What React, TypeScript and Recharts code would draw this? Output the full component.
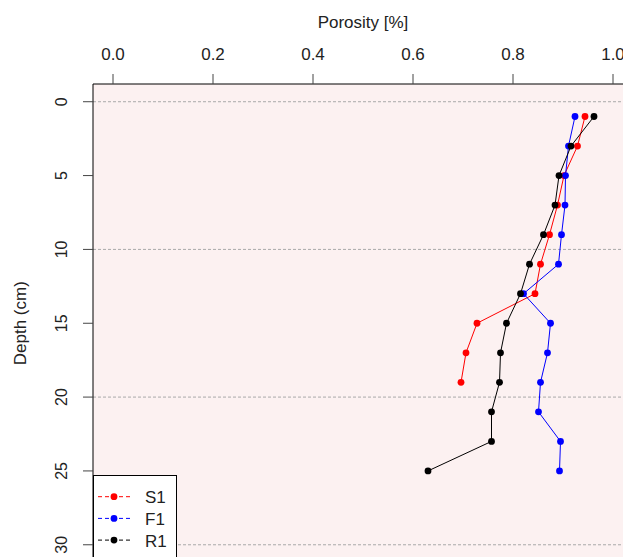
import { ScatterChart, Scatter, XAxis, YAxis, CartesianGrid } from "recharts";

const FONT = "'Liberation Sans', Arial, sans-serif";

// sampling depths (cm)
const depths = [1, 3, 5, 7, 9, 11, 13, 15, 17, 19, 21, 23, 25];

// porosity per profile, read top to bottom
const s1Porosity = [0.944, 0.929, 0.902, 0.889, 0.873, 0.855, 0.844, 0.728, 0.706, 0.696];
const f1Porosity = [0.924, 0.911, 0.905, 0.904, 0.897, 0.891, 0.821, 0.875, 0.869, 0.855, 0.851, 0.895, 0.893];
const r1Porosity = [0.962, 0.916, 0.892, 0.884, 0.861, 0.833, 0.815, 0.787, 0.775, 0.773, 0.757, 0.757, 0.63];

const porosityTicks = [0, 0.2, 0.4, 0.6, 0.8, 1.0];
const depthTicks = [0, 5, 10, 15, 20, 25, 30];
const gridDepths = [0, 10, 20, 30];

const toPoints = (vals: number[]) => vals.map((p, i) => ({ porosity: p, depth: depths[i] }));

const series = [
  { name: "S1", color: "#ff0000", data: toPoints(s1Porosity) },
  { name: "F1", color: "#0000ff", data: toPoints(f1Porosity) },
  { name: "R1", color: "#000000", data: toPoints(r1Porosity) },
];

const XTick = ({ x, y, payload }: any) => (
  <text x={x} y={y} textAnchor="middle" fontSize={17} fill="#222" fontFamily={FONT}>
    {Number(payload.value).toFixed(1)}
  </text>
);

const YTick = ({ x, y, payload }: any) => (
  <text
    x={x}
    y={y}
    transform={`rotate(-90, ${x}, ${y})`}
    textAnchor="middle"
    fontSize={16}
    fill="#222"
    fontFamily={FONT}
  >
    {payload.value}
  </text>
);

const Legend = () => (
  <svg width={84} height={90} style={{ position: "absolute", left: 93, top: 475 }}>
    <rect x={0.5} y={0.5} width={83} height={89} fill="#fff" stroke="#000" />
    {series.map((s, i) => {
      const cy = 21.7 + i * 21.7;
      return (
        <g key={s.name}>
          <line x1={5} x2={38} y1={cy} y2={cy} stroke={s.color} strokeDasharray="4 3" />
          <circle cx={21} cy={cy} r={3.4} fill={s.color} />
          <text x={52} y={cy + 6.5} fontSize={17} fill="#222" fontFamily={FONT}>
            {s.name}
          </text>
        </g>
      );
    })}
  </svg>
);

export default function App() {
  return (
    <div
      style={{
        position: "fixed",
        left: 0,
        top: 0,
        width: 623,
        height: 557,
        overflow: "hidden",
        background: "#fff",
      }}
    >
      <ScatterChart width={700} height={620} margin={{ top: 0, right: 67, bottom: 57.5, left: 0 }}>
        <CartesianGrid
          vertical={false}
          horizontalValues={gridDepths}
          stroke="#aaa"
          strokeDasharray="3 2"
          fill="#fcf1f1"
        />
        <XAxis
          type="number"
          dataKey="porosity"
          orientation="top"
          domain={[-0.04, 1.04]}
          allowDataOverflow
          ticks={porosityTicks}
          height={84}
          tickSize={10}
          tickMargin={14.5}
          tick={<XTick />}
          tickLine={{ stroke: "#444" }}
          axisLine={{ stroke: "#000" }}
          label={{
            value: "Porosity [%]",
            position: "insideTop",
            offset: 16,
            fontSize: 17,
            fill: "#222",
            fontFamily: FONT,
          }}
        />
        <YAxis
          type="number"
          dataKey="depth"
          reversed
          domain={[-1.2, 31.2]}
          allowDataOverflow
          ticks={depthTicks}
          width={93}
          tickSize={10}
          tickMargin={16}
          tick={<YTick />}
          tickLine={{ stroke: "#444" }}
          axisLine={{ stroke: "#000" }}
          label={{
            content: ({ viewBox }: any) => {
              const cy = viewBox.y + viewBox.height / 2;
              return (
                <text
                  x={25.5}
                  y={cy}
                  transform={`rotate(-90, 25.5, ${cy})`}
                  textAnchor="middle"
                  fontSize={17}
                  fill="#222"
                  fontFamily={FONT}
                >
                  Depth (cm)
                </text>
              );
            },
          }}
        />
        {series.map((s) => (
          <Scatter
            key={s.name}
            name={s.name}
            data={s.data}
            fill={s.color}
            line={{ stroke: s.color, strokeWidth: 1 }}
            shape={(p: any) => <circle cx={p.cx} cy={p.cy} r={3.4} fill={s.color} />}
            isAnimationActive={false}
          />
        ))}
      </ScatterChart>
      <Legend />
    </div>
  );
}
